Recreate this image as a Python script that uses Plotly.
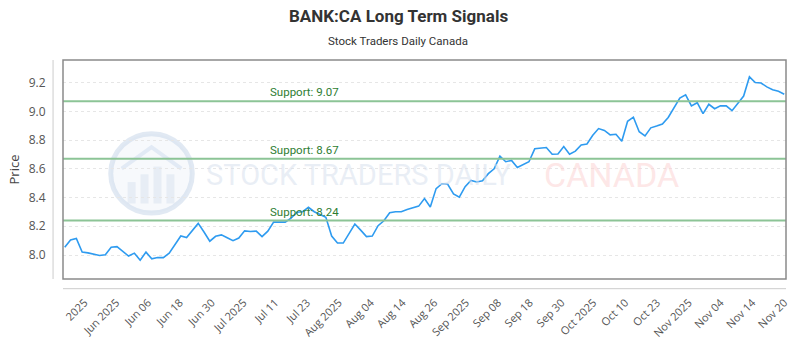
import plotly.graph_objects as go
import numpy as np

prices = [8.054, 8.105, 8.115, 8.020, 8.015, 8.007, 7.997, 8.002, 8.054, 8.058,
          8.025, 7.993, 8.013, 7.964, 8.020, 7.973, 7.982, 7.982, 8.013, 8.070,
          8.132, 8.121, 8.170, 8.220, 8.160, 8.096, 8.130, 8.140, 8.120, 8.100,
          8.118, 8.168, 8.164, 8.166, 8.128, 8.166, 8.229, 8.231, 8.229, 8.256,
          8.297, 8.301, 8.332, 8.301, 8.283, 8.263, 8.132, 8.083, 8.083, 8.148,
          8.216, 8.173, 8.128, 8.132, 8.204, 8.238, 8.294, 8.301, 8.301, 8.317,
          8.331, 8.340, 8.393, 8.334, 8.462, 8.496, 8.492, 8.425, 8.402, 8.476,
          8.519, 8.508, 8.516, 8.566, 8.600, 8.688, 8.649, 8.658, 8.609, 8.627,
          8.649, 8.739, 8.744, 8.748, 8.701, 8.703, 8.755, 8.701, 8.723, 8.766,
          8.773, 8.833, 8.880, 8.867, 8.836, 8.840, 8.791, 8.930, 8.959, 8.858,
          8.829, 8.885, 8.897, 8.912, 8.957, 9.020, 9.092, 9.114, 9.038, 9.060,
          8.984, 9.049, 9.018, 9.038, 9.038, 9.004, 9.054, 9.106, 9.240, 9.200,
          9.197, 9.170, 9.150, 9.139, 9.119]

tick_labels = ["2025", "Jun 2025", "Jun 06", "Jun 18", "Jun 30", "Jul 2025", "Jul 11",
               "Jul 23", "Aug 2025", "Aug 04", "Aug 14", "Aug 26", "Sep 2025", "Sep 08",
               "Sep 18", "Sep 30", "Oct 2025", "Oct 10", "Oct 23", "Nov 2025", "Nov 04",
               "Nov 14", "Nov 20"]

supports = [9.07, 8.67, 8.24]
support_label_pos = 35

title_text = "BANK:CA Long Term Signals"
subtitle_text = "Stock Traders Daily Canada"

x = list(range(len(prices)))
n = len(prices)
tickvals = list(np.linspace(3.4, n - 1, len(tick_labels)))

PW, PH, L, T = 727, 226, 63, 60


def px_x(p):
    return (p - L) / PW


def px_y(p):
    return (T + PH - p) / PH


fig = go.Figure()
fig.add_trace(go.Scatter(x=x, y=prices, mode="lines",
                         line=dict(color="#2e9bf0", width=1.6),
                         hoverinfo="skip", showlegend=False))

for s in supports:
    fig.add_shape(type="line", xref="paper", x0=0, x1=1, yref="y", y0=s, y1=s,
                  line=dict(color="#8cc496", width=2))
    fig.add_annotation(x=support_label_pos, y=s, xref="x", yref="y",
                       text=f"Support: {s:.2f}", showarrow=False,
                       xanchor="left", yanchor="bottom",
                       font=dict(family="Roboto", size=11.5, color="#2e7d32"))

# watermark logo
fig.add_shape(type="circle", xref="paper", yref="paper",
              x0=px_x(111), x1=px_x(193), y0=px_y(218), y1=px_y(136),
              line=dict(color="rgba(205,218,235,0.6)", width=5),
              fillcolor="rgba(228,235,245,0.3)", layer="below")
for bx, bh in [(128, 22), (141, 30), (154, 38), (167, 30)]:
    fig.add_shape(type="rect", xref="paper", yref="paper",
                  x0=px_x(bx), x1=px_x(bx + 8), y0=px_y(208), y1=px_y(208 - bh),
                  line=dict(width=0), fillcolor="rgba(210,222,238,0.45)", layer="below")
fig.add_shape(type="path", xref="paper", yref="paper",
              path=f"M {px_x(122)},{px_y(172)} L {px_x(152)},{px_y(150)} L {px_x(182)},{px_y(172)}",
              line=dict(color="rgba(210,222,238,0.55)", width=4), layer="below")
fig.add_annotation(xref="paper", yref="paper", x=px_x(205), y=px_y(179),
                   xanchor="left", yanchor="middle",
                   text="STOCK TRADERS DAILY", showarrow=False,
                   font=dict(family="Roboto", size=29, color="rgba(215,224,238,0.55)"))
fig.add_annotation(xref="paper", yref="paper", x=px_x(545), y=px_y(179),
                   xanchor="left", yanchor="middle",
                   text="CANADA", showarrow=False,
                   font=dict(family="Roboto", size=34, color="rgba(252,210,210,0.55)"))

# titles
fig.add_annotation(xref="paper", yref="paper", x=px_x(400), y=px_y(15),
                   xanchor="center", yanchor="middle", showarrow=False,
                   text=f"<b>{title_text}</b>",
                   font=dict(family="Roboto", size=17, color="#333333"))
fig.add_annotation(xref="paper", yref="paper", x=px_x(400), y=px_y(40),
                   xanchor="center", yanchor="middle", showarrow=False,
                   text=subtitle_text,
                   font=dict(family="Roboto", size=11.5, color="#333333"))

# frame and offset axis lines
fig.add_shape(type="rect", xref="paper", yref="paper", x0=0, x1=1, y0=0, y1=1,
              line=dict(color="#8a8a8a", width=1.5))
fig.add_shape(type="line", xref="paper", yref="paper", x0=px_x(53), x1=px_x(53),
              y0=0, y1=1, line=dict(color="#cccccc", width=1))
fig.add_shape(type="line", xref="paper", yref="paper", x0=0, x1=1,
              y0=px_y(296), y1=px_y(296), line=dict(color="#cccccc", width=1))

fig.update_layout(
    width=800, height=350,
    margin=dict(l=L, r=800 - L - PW, t=T, b=350 - T - PH),
    paper_bgcolor="white", plot_bgcolor="white",
    xaxis=dict(range=[-0.3, n - 0.7], tickmode="array", tickvals=tickvals,
               ticktext=tick_labels, tickangle=-45, showgrid=False, zeroline=False,
               ticks="outside", ticklen=12, tickcolor="rgba(0,0,0,0)",
               tickfont=dict(family="Open Sans", size=11, color="#555555")),
    yaxis=dict(range=[7.833, 9.357], tickmode="array",
               tickvals=[8.0, 8.2, 8.4, 8.6, 8.8, 9.0, 9.2],
               ticktext=["8.0", "8.2", "8.4", "8.6", "8.8", "9.0", "9.2"],
               showgrid=True, gridcolor="#e6e6e6", griddash="dot", gridwidth=1,
               zeroline=False, ticks="outside", ticklen=14, tickcolor="rgba(0,0,0,0)",
               tickfont=dict(family="Open Sans", size=12, color="#555555"),
               title=dict(text="Price", standoff=6,
                          font=dict(family="Open Sans", size=13, color="#444444"))),
)

fig.write_html("out.html")
